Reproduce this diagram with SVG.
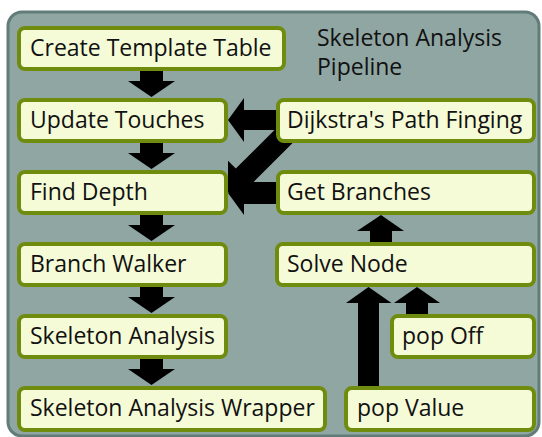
<svg xmlns="http://www.w3.org/2000/svg" width="542" height="437" viewBox="0 0 542 437">
<style>
.bg{fill:#8fa6a3;stroke:#627c79;stroke-width:3}
.node rect{fill:#f5fbd6;stroke:#6f8c0e;stroke-width:4}
.node text, .title{font-family:"Open Sans","Noto Sans",sans-serif;font-size:23px;fill:#111}
.arr{fill:#000}
</style>
<rect class="bg" x="8" y="12" width="531" height="424" rx="14"/>
<text class="title" x="317" y="46">Skeleton Analysis</text>
<text class="title" x="317" y="75">Pipeline</text>
<g id="connectors">
<polygon class="arr" points="140,71 163,71 163,81 175,81 151.5,97 128,81 140,81"/>
<polygon class="arr" points="140,143 163,143 163,153 175,153 151.5,169 128,153 140,153"/>
<polygon class="arr" points="140,215 163,215 163,225 175,225 151.5,241 128,225 140,225"/>
<polygon class="arr" points="140,287 163,287 163,297 175,297 151.5,313 128,297 140,297"/>
<polygon class="arr" points="140,359 163,359 163,369 175,369 151.5,385 128,369 140,369"/>
<polygon class="arr" points="280,110 244,110 244,98 228,120 244,142 244,130 280,130"/>
<polygon class="arr" points="280,182 244,182 244,171 228,193 244,215 244,204 280,204"/>
<polygon class="arr" points="228,192 228,160.8 235.8,168.6 280,124.4 295.6,140 251.4,184.2 259.2,192"/>
<polygon class="arr" points="370,242 370,231 357,231 381,215 404,231 392,231 392,242"/>
<polygon class="arr" points="358,386 358,303 346,303 368.5,287 391.5,303 379,303 379,386"/>
<polygon class="arr" points="406,314 406,303 394,303 417,287 440,303 428,303 428,314"/>
</g>
<g id="n-create" class="node"><rect x="19" y="28" width="265" height="41" rx="6"/><text x="30" y="55.5">Create Template Table</text></g>
<g id="n-update" class="node"><rect x="19" y="100" width="207" height="41" rx="6"/><text x="30" y="127.5">Update Touches</text></g>
<g id="n-find" class="node"><rect x="19" y="172" width="207" height="41" rx="6"/><text x="30" y="199.5">Find Depth</text></g>
<g id="n-branch" class="node"><rect x="19" y="244" width="207" height="41" rx="6"/><text x="30" y="271.5">Branch Walker</text></g>
<g id="n-skel" class="node"><rect x="19" y="316" width="207" height="41" rx="6"/><text x="30" y="343.5">Skeleton Analysis</text></g>
<g id="n-wrapper" class="node"><rect x="19" y="388" width="306" height="42" rx="6"/><text x="30" y="415.5">Skeleton Analysis Wrapper</text></g>
<g id="n-dijkstra" class="node"><rect x="278" y="100" width="256" height="41" rx="6"/><text x="287" y="127.5">Dijkstra's Path Finging</text></g>
<g id="n-getbranches" class="node"><rect x="278" y="172" width="256" height="41" rx="6"/><text x="287" y="199.5">Get Branches</text></g>
<g id="n-solve" class="node"><rect x="277" y="244" width="257" height="41" rx="6"/><text x="287" y="271.5">Solve Node</text></g>
<g id="n-popoff" class="node"><rect x="392" y="316" width="142" height="41" rx="6"/><text x="402" y="343.5">pop Off</text></g>
<g id="n-popvalue" class="node"><rect x="346" y="388" width="188" height="42" rx="6"/><text x="357" y="415.5">pop Value</text></g>
</svg>
